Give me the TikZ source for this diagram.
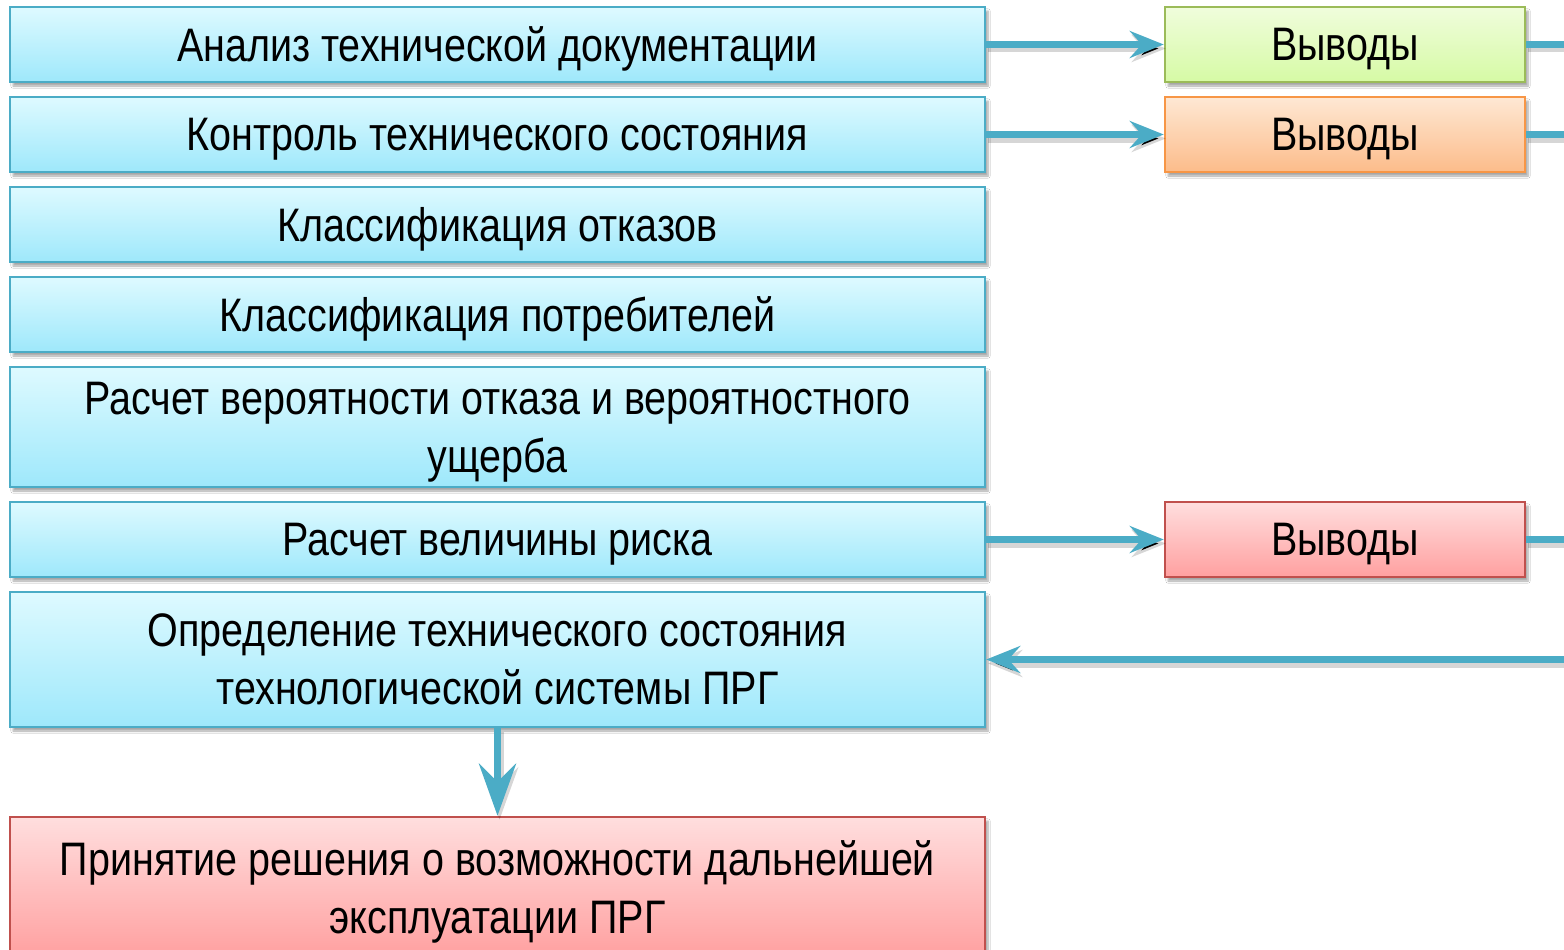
\documentclass[tikz,border=0pt]{standalone}
\usepackage{fontspec}
\setmainfont[FakeStretch=0.84]{Liberation Sans}
\usetikzlibrary{arrows.meta,shadows.blur}
\definecolor{lbTop}{RGB}{222,250,255}
\definecolor{lbBot}{RGB}{158,232,251}
\definecolor{lbLine}{RGB}{75,172,198}
\definecolor{grTop}{RGB}{240,253,220}
\definecolor{grBot}{RGB}{214,250,165}
\definecolor{grLine}{RGB}{155,187,89}
\definecolor{orTop}{RGB}{254,232,212}
\definecolor{orBot}{RGB}{252,188,138}
\definecolor{orLine}{RGB}{247,150,70}
\definecolor{rdTop}{RGB}{255,222,222}
\definecolor{rdBot}{RGB}{255,160,160}
\definecolor{rdLine}{RGB}{192,80,77}
\definecolor{arrCol}{RGB}{75,172,198}
\tikzset{
  boxbase/.style={rectangle, line width=2.5pt, align=center, inner sep=0pt,
    font=\fontsize{47}{58}\selectfont, text=black, text depth=0pt,
    blur shadow={shadow xshift=3pt, shadow yshift=-4pt, shadow blur steps=6, shadow opacity=35}},
  lbox/.style={boxbase, draw=lbLine, top color=lbTop, bottom color=lbBot,
    minimum width=975pt, minimum height=75pt},
  rbox/.style={boxbase, minimum width=360pt, minimum height=75pt},
  gbox/.style={rbox, draw=grLine, top color=grTop, bottom color=grBot},
  obox/.style={rbox, draw=orLine, top color=orTop, bottom color=orBot},
  redbox/.style={rbox, draw=rdLine, top color=rdTop, bottom color=rdBot},
  shadowpre/.style={preaction={draw=black, draw opacity=0.16, line width=8pt, #1,
      transform canvas={shift={(2pt,-4pt)}}}},
  conn/.style={draw=arrCol, line width=7pt, shadowpre={-}},
  arr/.style={draw=arrCol, line width=7pt,
    shadowpre={-{Stealth[length=34pt, width=27pt, inset=12pt]}},
    -{Stealth[length=34pt, width=27pt, inset=12pt]}},
  bigarr/.style={draw=arrCol, line width=7pt,
    shadowpre={-{Stealth[length=52pt, width=37pt, inset=18pt]}},
    -{Stealth[length=52pt, width=37pt, inset=18pt]}},
}
\begin{document}
\begin{tikzpicture}[x=1pt, y=-1pt]
\useasboundingbox (0,0) rectangle (1564,950);
\fill[white] (0,0) rectangle (1564,950);
% left column
\node[lbox] (b1) at (497.5,44.5) {Анализ технической документации};
\node[lbox] (b2) at (497.5,134.5) {Контроль технического состояния};
\node[lbox] (b3) at (497.5,224.5) {Классификация отказов};
\node[lbox] (b4) at (497.5,314.5) {Классификация потребителей};
\node[lbox, minimum height=120pt] (b5) at (497.5,427) {Расчет вероятности отказа и вероятностного\\ущерба};
\node[lbox] (b6) at (497.5,539.5) {Расчет величины риска};
\node[lbox, minimum height=135pt] (b7) at (497.5,659.5) {Определение технического состояния\\технологической системы ПРГ};
\node[lbox, minimum height=140pt, draw=rdLine, top color=rdTop, bottom color=rdBot] (b8) at (497.5,887) {Принятие решения о возможности дальнейшей\\эксплуатации ПРГ};
% right column
\node[gbox] (r1) at (1345,44.5) {Выводы};
\node[obox] (r2) at (1345,134.5) {Выводы};
\node[redbox] (r3) at (1345,539.5) {Выводы};
% off-page ends
\coordinate (e1) at (1570,44.5);
\coordinate (e2) at (1570,134.5);
\coordinate (e3) at (1570,539.5);
\coordinate (e7) at (1570,659.5);
% connectors
\draw[arr] (b1.east) -- (r1.west);
\draw[arr] (b2.east) -- (r2.west);
\draw[arr] (b6.east) -- (r3.west);
\draw[conn] (r1.east) -- (e1);
\draw[conn] (r2.east) -- (e2);
\draw[conn] (r3.east) -- (e3);
\draw[arr] (e7) -- (b7.east);
\draw[bigarr] (b7.south) -- (b8.north);
\end{tikzpicture}
\end{document}
